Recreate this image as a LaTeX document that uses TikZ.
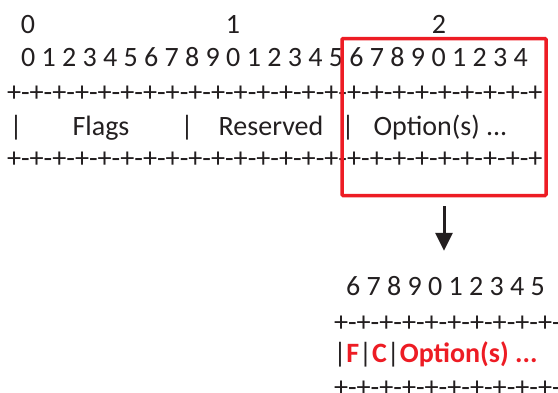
\documentclass[tikz,border=0pt]{standalone}
\usepackage{fontspec}
\setmainfont{Carlito}
\usetikzlibrary{arrows.meta, positioning}
\definecolor{optred}{HTML}{ED1C24}
\definecolor{ink}{HTML}{231F20}
\newcommand{\borderrow}[1]{\foreach \k in {1,...,#1}{+-}}
\tikzset{
  art/.style={inner sep=0pt, outer sep=0pt, anchor=base west, text=ink,
              font=\fontsize{28}{34}\selectfont},
  field/.style={art, anchor=base},
  rule/.style={art, font=\fontsize{28.2}{34}\selectfont},
}

\begin{document}
\begin{tikzpicture}[x=1pt, y=-1pt]
  \useasboundingbox (0,0) rectangle (558,392);

  % Bit numbers
  \foreach \x/\lbl in {28/0, 233/1, 439/2}
    \node[field] (dec\lbl) at (\x, 33) {\lbl};
  \node[art] (bits) at (21, 66)
    {0 1 2 3 4 5 6 7 8 9 0 1 2 3 4 5 6 7 8 9 0 1 2 3 4};

  % Header rows
  \node[rule] (topline) at (7, 101) {\borderrow{23}+};
  \foreach \x [count=\i] in {16, 187, 348}
    \node[field] (bar\i) at (\x, 135) {|};
  \node[field] (flags) at (101, 135) {Flags};
  \node[field] (reserved) at (271, 135) {Reserved};
  \node[field] (options) at (440.5, 135) {Option(s) ...};
  \node[rule] (botline) at (7, 167) {\borderrow{23}+};

  % Option field
  \node[draw=optred, line width=3.5pt, rounded corners=1pt,
        minimum width=204pt, minimum height=157pt, inner sep=0pt] (optbox)
    at (444, 117) {};

  % Zoomed option field
  \node[art] (lowbits) at (346, 295) {6 7 8 9 0 1 2 3 4 5};
  \node[rule] (lowtop) at (334, 331) {\borderrow{10}};
  \node[art] (optfield) at (333.5, 362)
    {|\textcolor{optred}{\bfseries F}|\textcolor{optred}{\bfseries C}|\textcolor{optred}{\bfseries Option(s) ...}};
  \node[rule] (lowbot) at (334, 396) {\borderrow{10}};

  \draw[-{Triangle[length=18pt, width=17pt]}, line width=3pt, ink,
        shorten <=9pt, shorten >=25pt]
    (optbox.south) -- (optbox.south |- lowbits.north);
\end{tikzpicture}
\end{document}
